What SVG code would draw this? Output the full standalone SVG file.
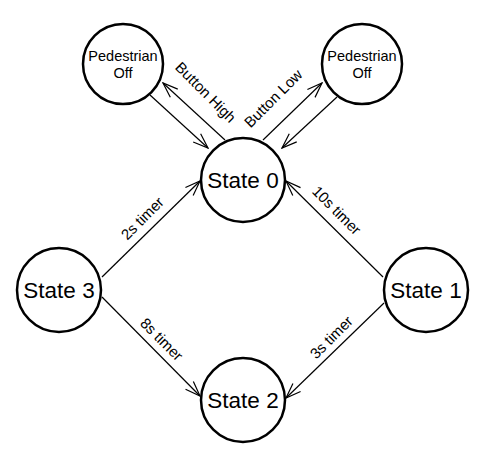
<svg xmlns="http://www.w3.org/2000/svg" width="485" height="460" viewBox="0 0 485 460">
<style>
.node circle{fill:#fff;stroke:#000;stroke-width:2.5}
.node text{font-family:"Liberation Sans",Arial,sans-serif;text-anchor:middle;fill:#000}
.big{font-size:22.5px}
.small{font-size:14.5px}
.edge line{stroke:#000;stroke-width:1.2;marker-end:url(#arr)}
.lbl{font-family:"Liberation Sans",Arial,sans-serif;font-size:15px;text-anchor:middle;fill:#000}
</style>
<defs>
<marker id="arr" markerUnits="userSpaceOnUse" viewBox="-16 -7 17 14" refX="0" refY="0" markerWidth="17" markerHeight="14" orient="auto">
<path d="M-15,-5.5 L0,0 L-15,5.5" fill="none" stroke="#000" stroke-width="1.2"/>
</marker>
</defs>
<rect width="485" height="460" fill="#fff"/>
<g id="connectors" class="edge">
<line x1="102" y1="277" x2="200" y2="181"/>
<line x1="383" y1="277" x2="286" y2="181"/>
<line x1="102" y1="297" x2="200" y2="396"/>
<line x1="384" y1="303" x2="286" y2="398"/>
<line x1="150" y1="95" x2="208" y2="148"/>
<line x1="225" y1="140" x2="163" y2="83"/>
<line x1="263" y1="140" x2="322" y2="83"/>
<line x1="337" y1="97" x2="282" y2="148"/>
</g>
<g id="labels">
<text class="lbl" transform="translate(202,96) rotate(45)">Button High</text>
<text class="lbl" transform="translate(277,102) rotate(-45)">Button Low</text>
<text class="lbl" transform="translate(146,222) rotate(-45)">2s timer</text>
<text class="lbl" transform="translate(333,214) rotate(45)">10s timer</text>
<text class="lbl" transform="translate(158,343) rotate(45)">8s timer</text>
<text class="lbl" transform="translate(335,341) rotate(-45)">3s timer</text>
</g>
<g id="state0" class="node"><circle cx="243" cy="180" r="42"/><text class="big" x="243" y="188">State 0</text></g>
<g id="state1" class="node"><circle cx="426" cy="290" r="42"/><text class="big" x="426" y="298">State 1</text></g>
<g id="state2" class="node"><circle cx="243" cy="400" r="42"/><text class="big" x="243" y="408">State 2</text></g>
<g id="state3" class="node"><circle cx="59" cy="290" r="42"/><text class="big" x="59" y="298">State 3</text></g>
<g id="pedL" class="node"><circle cx="123" cy="64" r="40"/><text class="small" x="123" y="61">Pedestrian</text><text class="small" x="123" y="78">Off</text></g>
<g id="pedR" class="node"><circle cx="362" cy="64" r="40"/><text class="small" x="362" y="61">Pedestrian</text><text class="small" x="362" y="78">Off</text></g>
</svg>
